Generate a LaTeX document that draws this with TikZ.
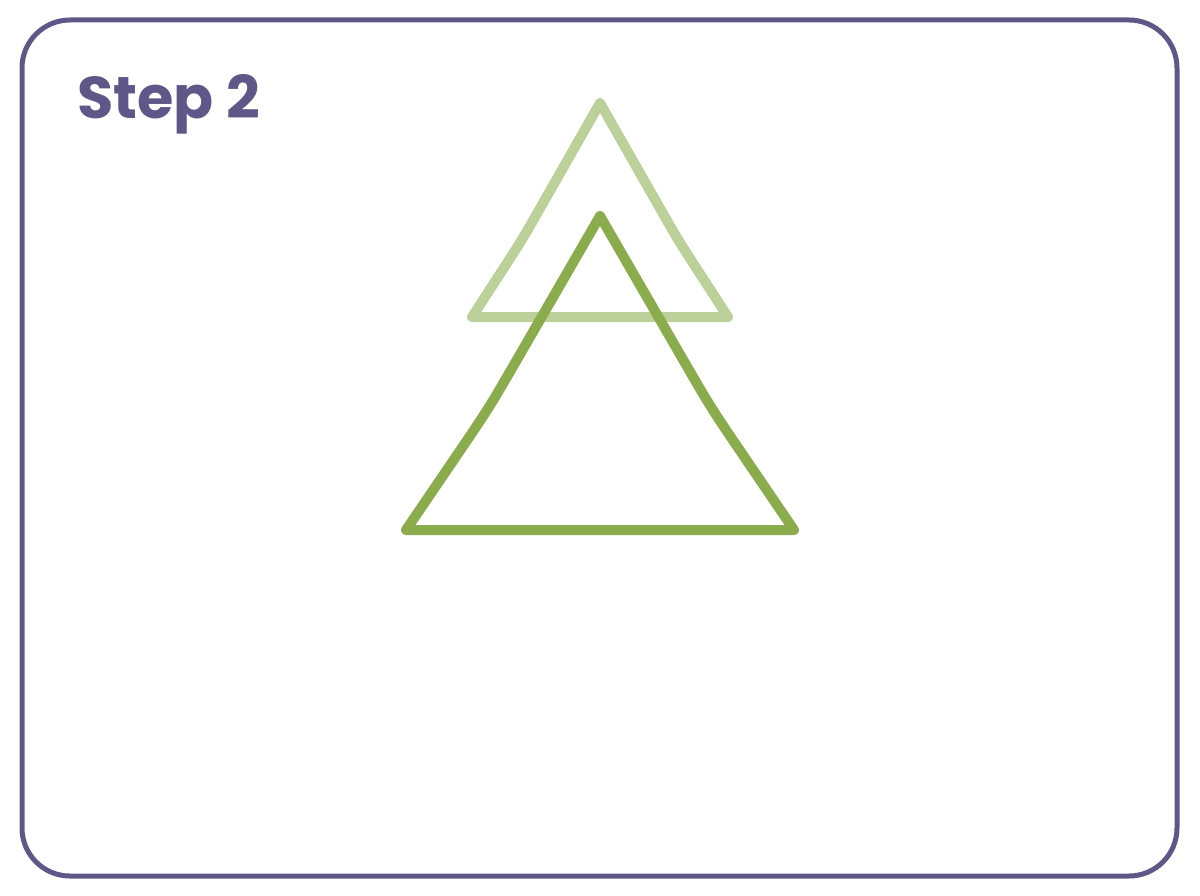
\documentclass[tikz,border=0pt]{standalone}
\usepackage{fontspec}
\usetikzlibrary{calc}
\setmainfont{Poppins}[BoldFont={* Bold}]
\definecolor{framepurple}{HTML}{5F5787}
\definecolor{darkgreen}{HTML}{8BAC4D}
\definecolor{lightgreen}{HTML}{BCD09A}
\begin{document}
\begin{tikzpicture}[x=1pt,y=-1pt,
  framebox/.style={draw=framepurple,line width=5pt,rounded corners=48pt},
  tri/.style={line width=10pt,line join=round,line cap=round},
  title/.style={font=\fontsize{59}{62}\selectfont\bfseries,text=framepurple,inner sep=0pt,anchor=base west}]
\useasboundingbox (0,0) rectangle (1200,896);
\draw[framebox] (22,20) rectangle (1177,876);
\node[title] (title) at (77,119) {Step 2};
% light triangle
\coordinate (la) at (600,103);
\coordinate (lk1) at (522,240);
\coordinate (lb1) at (472,317);
\coordinate (lb2) at (728,317);
\coordinate (lk2) at (678,240);
\draw[tri,draw=lightgreen] (la) -- ($(la)!0.7!(lk1)$) .. controls (lk1) .. ($(lk1)!0.4!(lb1)$) -- (lb1) -- (lb2) -- ($(lb2)!0.6!(lk2)$) .. controls (lk2) .. ($(lk2)!0.3!(la)$) -- cycle;
% dark triangle
\coordinate (da) at (600,216);
\coordinate (dk1) at (489,408);
\coordinate (db1) at (406,530);
\coordinate (db2) at (794,530);
\coordinate (dk2) at (711,408);
\draw[tri,draw=darkgreen] (da) -- ($(da)!0.7!(dk1)$) .. controls (dk1) .. ($(dk1)!0.4!(db1)$) -- (db1) -- (db2) -- ($(db2)!0.6!(dk2)$) .. controls (dk2) .. ($(dk2)!0.3!(da)$) -- cycle;
\end{tikzpicture}
\end{document}
